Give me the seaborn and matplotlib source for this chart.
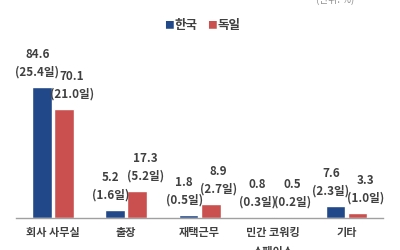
import matplotlib
matplotlib.use("Agg")
import matplotlib.pyplot as plt
import seaborn as sns
import pandas as pd
import numpy as np

categories = ["회사 사무실", "출장", "재택근무", "민간 코워킹\n스페이스", "기타"]
korea_pct = [84.6, 5.2, 1.8, 0.8, 7.6]
korea_days = [25.4, 1.6, 0.5, 0.3, 2.3]
germany_pct = [70.1, 17.3, 8.9, 0.5, 3.3]
germany_days = [21.0, 5.2, 2.7, 0.2, 1.0]
series = ["한국", "독일"]
colors = ["#21498A", "#C9504F"]

sns.set_theme(style="white")
plt.rcParams["font.family"] = ["Noto Sans CJK KR", "DejaVu Sans"]

df = pd.DataFrame({
    "cat": categories * 2,
    "country": [series[0]] * len(categories) + [series[1]] * len(categories),
    "pct": korea_pct + germany_pct,
})

fig = plt.figure(figsize=(4, 2.5), dpi=100)
ax = fig.add_axes([0.04, 0.128, 0.918, 0.712])
sns.barplot(data=df, x="cat", y="pct", hue="country", palette=colors,
            width=0.6, gap=0.1, ax=ax, legend=False, saturation=1)

ax.set_ylim(0, 114.8)
ax.set_xlim(-0.5, len(categories) - 0.5)
ax.set_xlabel("")
ax.set_ylabel("")
ax.set_yticks([])
for s in ["top", "right", "left"]:
    ax.spines[s].set_visible(False)
ax.spines["bottom"].set_color("#A0A0A0")
ax.spines["bottom"].set_linewidth(1.0)

ax.set_xticks(range(len(categories)))
ax.set_xticklabels(categories, fontsize=8, color="#404040", fontweight="bold",
                   linespacing=1.6)
ax.tick_params(axis="x", which="major", length=0, pad=6)
ax.set_xticks(np.arange(-0.5, len(categories)), minor=True)
ax.tick_params(axis="x", which="minor", length=5, direction="inout",
               color="#A0A0A0", width=1)

text_kw = dict(ha="center", va="bottom", fontsize=8.4, color="#404040",
               fontweight="bold", linespacing=1.45)
for i in range(len(categories)):
    ax.text(i - 0.21, korea_pct[i] + 5.5, f"{korea_pct[i]}\n({korea_days[i]}일)", **text_kw)
    ax.text(i + 0.26, germany_pct[i] + 5.5, f"{germany_pct[i]}\n({germany_days[i]}일)", **text_kw)

# legend
fig.text(0.41, 0.9, "■", color=colors[0], fontsize=7, ha="left", va="center")
fig.text(0.437, 0.9, "한국", color="#404040", fontsize=9, fontweight="bold", ha="left", va="center")
fig.text(0.517, 0.9, "■", color=colors[1], fontsize=7, ha="left", va="center")
fig.text(0.543, 0.9, "독일", color="#404040", fontsize=9, fontweight="bold", ha="left", va="center")

fig.text(0.79, 1.0, "(단위: %)", color="#909090", fontsize=7, ha="left", va="center")

fig.savefig("out.png", dpi=100)
